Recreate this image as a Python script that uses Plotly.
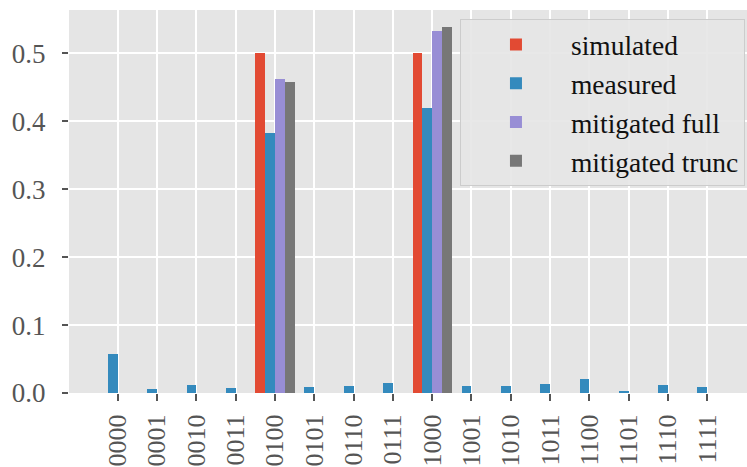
import plotly.graph_objects as go

categories = ["0000", "0001", "0010", "0011", "0100", "0101", "0110", "0111",
              "1000", "1001", "1010", "1011", "1100", "1101", "1110", "1111"]

simulated = [0, 0, 0, 0, 0.5, 0, 0, 0, 0.5, 0, 0, 0, 0, 0, 0, 0]
measured = [0.057, 0.0055, 0.0113, 0.007, 0.3825, 0.0084, 0.0099, 0.0143,
            0.4195, 0.0099, 0.0099, 0.0128, 0.0202, 0.0025, 0.0113, 0.0084]
mitigated_full = [0, 0, 0, 0, 0.462, 0, 0, 0, 0.533, 0, 0, 0, 0, 0, 0, 0]
mitigated_trunc = [0, 0, 0, 0, 0.4576, 0, 0, 0, 0.5386, 0, 0, 0, 0, 0, 0, 0]

series = [
    ("simulated", simulated, "#E24A33"),
    ("measured", measured, "#348ABD"),
    ("mitigated full", mitigated_full, "#988ED5"),
    ("mitigated trunc", mitigated_trunc, "#777777"),
]

yticks = [0.0, 0.1, 0.2, 0.3, 0.4, 0.5]

FONT = "Liberation Serif"

fig = go.Figure()
for name, vals, color in series:
    fig.add_trace(go.Bar(x=categories, y=vals, name=name,
                         marker=dict(color=color, line=dict(width=0))))

fig.update_layout(
    width=747, height=467,
    margin=dict(l=69, r=0, t=10, b=74),
    paper_bgcolor="white",
    plot_bgcolor="#E5E5E5",
    barmode="group", bargap=0, bargroupgap=0,
    font=dict(family=FONT, size=27, color="#555555"),
    showlegend=True,
    legend=dict(
        x=0.997, y=0.976, xanchor="right", yanchor="top",
        bgcolor="rgba(229,229,229,0.9)",
        bordercolor="#CCCCCC", borderwidth=1,
        font=dict(family=FONT, size=27.5, color="#111111"),
        itemwidth=100,
        tracegroupgap=0,
    ),
)

fig.update_xaxes(
    type="category",
    range=[-1.24, 16.01],
    automargin=False,
    showgrid=True, gridcolor="white", gridwidth=1.6,
    ticks="outside", ticklen=7, tickwidth=1.5, tickcolor="#555555",
    tickangle=-90,
    ticklabelstandoff=3,
    tickfont=dict(family=FONT, size=26, color="#555555"),
    showline=False, zeroline=False,
)
fig.update_yaxes(
    range=[0, 0.5638],
    automargin=False,
    tickvals=yticks, tickformat=".1f",
    showgrid=True, gridcolor="white", gridwidth=1.6,
    ticks="outside", ticklen=6, tickwidth=1.5, tickcolor="#555555",
    ticklabelstandoff=11,
    tickfont=dict(family=FONT, size=27, color="#555555"),
    showline=False, zeroline=False,
)

fig.write_html("out.html")
